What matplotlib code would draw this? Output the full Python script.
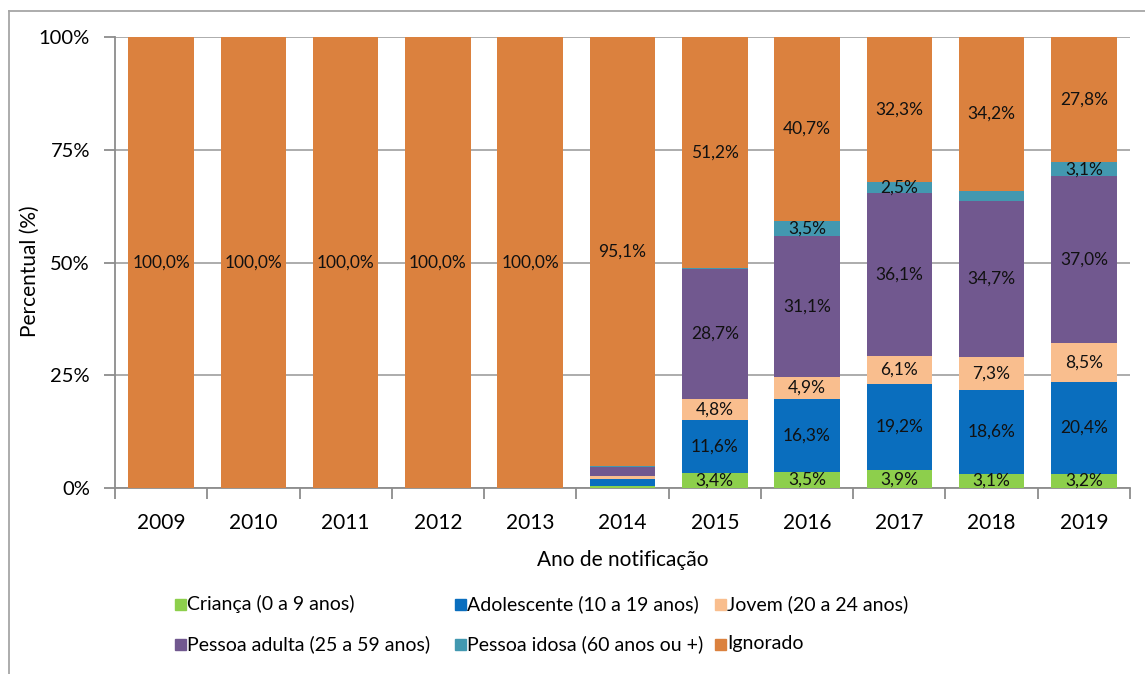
import matplotlib
matplotlib.use('Agg')
import matplotlib.pyplot as plt
from matplotlib.lines import Line2D
import matplotlib.patches as mpatches
import numpy as np

plt.rcParams['font.family'] = ['Lato', 'DejaVu Sans']

anos = ['2009', '2010', '2011', '2012', '2013', '2014', '2015', '2016', '2017', '2018', '2019']
crianca = [0, 0, 0, 0, 0, 0.4, 3.4, 3.5, 3.9, 3.1, 3.2]
adolescente = [0, 0, 0, 0, 0, 1.5, 11.6, 16.3, 19.2, 18.6, 20.4]
jovem = [0, 0, 0, 0, 0, 0.7, 4.8, 4.9, 6.1, 7.3, 8.5]
adulta = [0, 0, 0, 0, 0, 2.1, 28.7, 31.1, 36.1, 34.7, 37.0]
idosa = [0, 0, 0, 0, 0, 0.2, 0.3, 3.5, 2.5, 2.1, 3.1]
ignorado = [100.0, 100.0, 100.0, 100.0, 100.0, 95.1, 51.2, 40.7, 32.3, 34.2, 27.8]

series = [
    ('Criança (0 a 9 anos)', crianca, '#8DCF4C'),
    ('Adolescente (10 a 19 anos)', adolescente, '#0A6EBE'),
    ('Jovem (20 a 24 anos)', jovem, '#F9BE8E'),
    ('Pessoa adulta (25 a 59 anos)', adulta, '#71588F'),
    ('Pessoa idosa (60 anos ou +)', idosa, '#4298B0'),
    ('Ignorado', ignorado, '#DB813E'),
]

W, H = 1145, 674
fig = plt.figure(figsize=(W / 100, H / 100), dpi=100)
ax = fig.add_axes([115 / W, (H - 488) / H, (1130 - 115) / W, (488 - 37) / H])

x = np.arange(len(anos))
bottom = np.zeros(len(anos))
for nome, vals, cor in series:
    vals = np.array(vals)
    ax.bar(x, vals, 0.71, bottom=bottom, color=cor, zorder=3)
    for i, v in enumerate(vals):
        if v >= 2.4:
            ax.text(x[i], bottom[i] + v / 2, ('%.1f%%' % v).replace('.', ','),
                    ha='center', va='center', fontsize=12.5, color='#111111', zorder=4)
    bottom += vals

ax.set_xlim(-0.5, len(anos) - 0.5)
ax.set_ylim(0, 100)
ax.set_yticks([0, 25, 50, 75, 100])
ax.set_yticklabels(['0%', '25%', '50%', '75%', '100%'], fontsize=14.5)
ax.yaxis.grid(True, color='#A6A6A6', linewidth=1.3, zorder=0)
ax.set_xticks(x)
ax.set_xticklabels(anos, fontsize=15)
ax.set_xticks(np.arange(-0.5, len(anos)), minor=True)
ax.tick_params(axis='x', which='major', length=0, pad=18)
ax.tick_params(axis='x', which='minor', length=8, color='#8C8C8C', width=1.3)
ax.tick_params(axis='y', length=8, color='#8C8C8C', width=1.3, pad=10)
for s in ['top', 'right']:
    ax.spines[s].set_visible(False)
for s in ['left', 'bottom']:
    ax.spines[s].set_color('#8C8C8C')
    ax.spines[s].set_linewidth(1.3)

ax.set_xlabel('Ano de notificação', fontsize=15, labelpad=12)
ax.set_ylabel('Percentual (%)', fontsize=15)
ax.yaxis.set_label_coords((40 - 115) / 1015, 0.48)

# legenda (posicionada à mão, como no original)
leg_x = [175, 455, 715]
leg_y = [604, 644]
for k, (nome, _, cor) in enumerate(series):
    if k < 3:
        px, py = leg_x[k], leg_y[0]
    else:
        px, py = leg_x[k - 3], leg_y[1]
    fig.add_artist(mpatches.Rectangle((px / W, 1 - (py + 6) / H), 11 / W, 11 / H,
                                      color=cor, transform=fig.transFigure))
    fig.text((px + 12) / W, 1 - py / H, nome, fontsize=14, va='center', ha='left')

# moldura
fig.add_artist(Line2D([9 / W, 1], [1 - 11 / H, 1 - 11 / H], color='#A6A6A6', lw=1.3))
fig.add_artist(Line2D([9 / W, 9 / W], [0, 1 - 11 / H], color='#A6A6A6', lw=1.3))

fig.savefig('out.png', dpi=100)
